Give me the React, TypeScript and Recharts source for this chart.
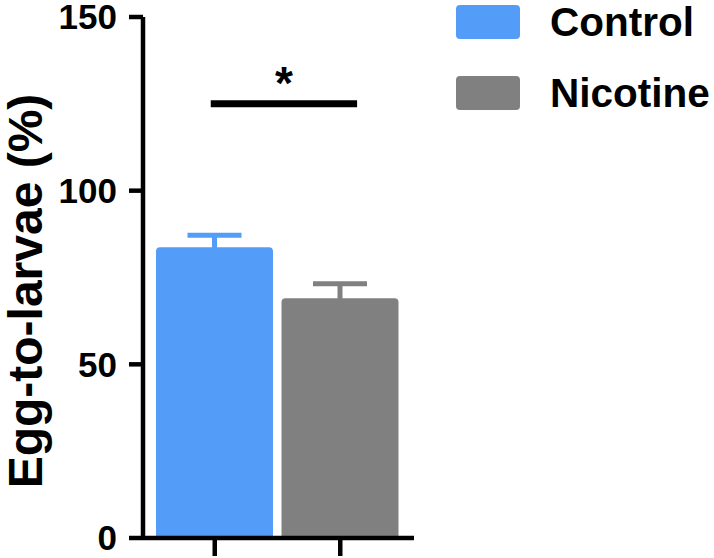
import React from "react";
import {
  BarChart,
  Bar,
  Cell,
  XAxis,
  YAxis,
  ErrorBar,
  ReferenceLine,
} from "recharts";

// groups and their values
const GROUPS = ["Control", "Nicotine"];
const MEANS = [83.7, 69.0];
const SEMS = [3.5, 4.2];
const COLORS = ["#539DF9", "#808080"];
const Y_TICKS = [0, 50, 100, 150];

// significance bracket: start/end as fractions of the plot width, height in y units
const SIG_SPAN = [0.25, 0.79];
const SIG_Y = 125;
const SIG_LABEL = "*";

const FONT = "'Liberation Sans', Arial, Helvetica, sans-serif";

// one error key per group so each error bar can take its bar's colour.
// the lower arm is tucked inside the bar so only the upper whisker shows
const data = GROUPS.map((name, i) => {
  const row: Record<string, unknown> = { name, value: MEANS[i] };
  row["err" + i] = [1.5, SEMS[i]];
  return row;
});

function LegendBox() {
  return (
    <div style={{ position: "absolute", left: 456, top: 5, fontFamily: FONT }}>
      {GROUPS.map((g, i) => (
        <div
          key={g}
          style={{ display: "flex", alignItems: "center", height: 34, marginBottom: i === 0 ? 37 : 0 }}
        >
          <div
            style={{ width: 64, height: 34, borderRadius: 4, background: COLORS[i], marginRight: 30 }}
          />
          <span style={{ fontSize: 40.5, fontWeight: 700, color: "#000", lineHeight: "34px", whiteSpace: "nowrap" }}>
            {g}
          </span>
        </div>
      ))}
    </div>
  );
}

export default function App() {
  return (
    <div style={{ position: "absolute", left: 0, top: 0, width: 714, height: 558, background: "#fff" }}>
      <BarChart
        width={714}
        height={558}
        data={data}
        margin={{ top: 17, right: 300, bottom: 0, left: 0 }}
        barSize={117}
      >
        <XAxis
          dataKey="name"
          tickFormatter={() => ""}
          tickSize={18}
          height={20}
          padding={{ left: 9, right: 11 }}
          axisLine={{ stroke: "#000", strokeWidth: 4.5 }}
          tickLine={{ stroke: "#000", strokeWidth: 4.5 }}
        />
        <XAxis xAxisId="pos" type="number" domain={[0, 1]} hide />
        <YAxis
          width={143}
          domain={[0, 150]}
          ticks={Y_TICKS}
          interval={0}
          tickSize={14}
          tickMargin={12}
          axisLine={{ stroke: "#000", strokeWidth: 4.5 }}
          tickLine={{ stroke: "#000", strokeWidth: 4.5 }}
          tick={{ fontSize: 35, fontWeight: 700, fill: "#000", fontFamily: FONT }}
          label={() => {
            const cx = 25;
            const cy = 291;
            return (
              <text
                x={cx}
                y={cy}
                transform={`rotate(-90 ${cx} ${cy})`}
                textAnchor="middle"
                dominantBaseline="central"
                fontSize={48}
                fontWeight={700}
                fontFamily={FONT}
                fill="#000"
              >
                Egg-to-larvae (%)
              </text>
            );
          }}
        />
        <Bar dataKey="value" radius={[4, 4, 0, 0]} isAnimationActive={false}>
          {GROUPS.map((g, i) => (
            <Cell key={g} fill={COLORS[i]} />
          ))}
          {GROUPS.map((g, i) => (
            <ErrorBar
              key={g}
              dataKey={"err" + i}
              width={27}
              strokeWidth={5}
              stroke={COLORS[i]}
              direction="y"
              isAnimationActive={false}
            />
          ))}
        </Bar>
        <ReferenceLine
          xAxisId="pos"
          segment={[
            { x: SIG_SPAN[0], y: SIG_Y },
            { x: SIG_SPAN[1], y: SIG_Y },
          ]}
          stroke="#000"
          strokeWidth={7}
          label={{
            value: SIG_LABEL,
            position: "top",
            offset: 5,
            fontSize: 46,
            fontWeight: 700,
            fill: "#000",
            fontFamily: FONT,
          }}
        />
      </BarChart>
      <LegendBox />
    </div>
  );
}
